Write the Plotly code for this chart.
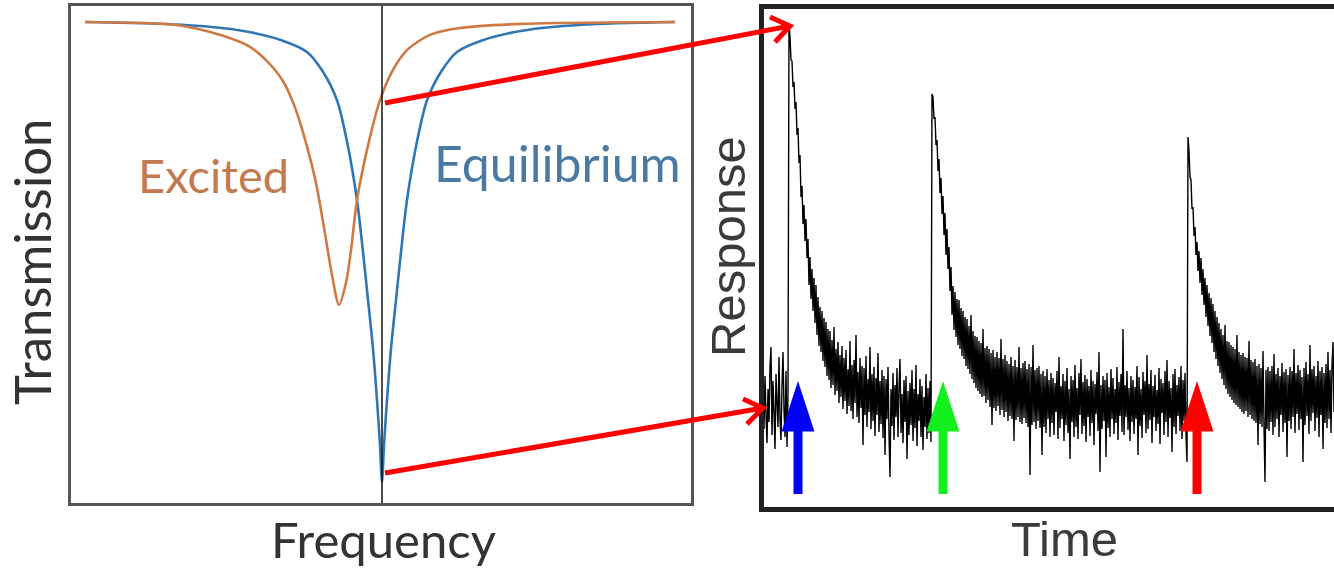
import plotly.graph_objects as go

W, H = 1334, 570

# ---------------- left panel data (frequency detuning, transmission) -------------
freq_equilibrium = [-297, -200, -140, -100, -75, -60, -45, -35, -25, -19, -14, -9, -5, -2, 0,
                    2, 5, 9, 14, 19, 25, 35, 45, 60, 75, 100, 140, 200, 293]
trans_equilibrium = [1.0, 0.994, 0.981, 0.96, 0.935, 0.895, 0.83, 0.74, 0.613, 0.50, 0.396, 0.29, 0.178, 0.08, 0.0,
                     0.08, 0.178, 0.29, 0.396, 0.50, 0.613, 0.74, 0.83, 0.895, 0.935, 0.96, 0.981, 0.994, 1.0]

freq_excited = [-297, -204, -159, -132, -115, -100, -88, -77, -66, -57, -50, -43, -36, -31, -25, -15, -2,
                11, 25, 48, 78, 140, 293]
trans_excited = [1.0, 0.993, 0.970, 0.946, 0.915, 0.875, 0.82, 0.745, 0.65, 0.54, 0.45, 0.385, 0.433, 0.504,
                 0.613, 0.722, 0.830, 0.896, 0.939, 0.972, 0.987, 0.996, 1.0]

probe_frequency = 0

# ---------------- right panel data (time samples, response a.u.) -----------------
baseline_before = [122, 78, 131, 92, 64, 118, 85, 140, 160, 72, 126, 95, 58, 133, 104, 80, 150, 88, 67, 121,
                   155, 98, 70, 136, 60, 112]
peak_1 = 484
decay_1 = [470, 447, 446, 420, 425, 398, 405, 372, 379, 344,
           352, 310, 321, 283, 302, 266, 288, 249, 268, 222,
           250, 208, 238, 196, 229, 184, 222, 172, 210, 161,
           200, 155, 196, 146, 189, 140, 185, 131, 178, 127,
           176, 119, 167, 122, 180, 112, 158, 116, 165, 104,
           152, 110, 161, 98, 149, 106, 157, 93, 138, 101,
           166, 96, 142, 88, 147, 104, 172, 90, 135, 84,
           149, 99, 141, 62, 139, 92, 151, 80, 128, 95,
           160, 78, 133, 86, 140, 71, 129, 92, 154, 75,
           126, 83, 137, 69, 131, 52, 128, 88, 140, 73,
           30, 118, 81, 134, 67, 122, 90, 139, 70, 119,
           148, 74, 113, 64, 127, 85, 131, 48, 116, 72,
           124, 82, 137, 66, 118, 79, 142, 61, 113, 86,
           128, 70, 121, 57, 110, 80, 133, 68, 119, 74,
           126, 65]
peak_2 = 413
decay_2 = [410, 388, 390, 362, 367, 336, 348, 314, 329, 293,
           311, 272, 294, 252, 278, 238, 260, 216, 240, 192,
           221, 177, 215, 170, 208, 162, 207, 158, 199, 151,
           196, 148, 190, 141, 188, 138, 181, 133, 192, 128,
           176, 124, 171, 119, 170, 116, 166, 113, 164, 110,
           178, 111, 159, 104, 161, 107, 158, 100, 154, 82,
           157, 99, 150, 96, 155, 101, 149, 92, 168, 97,
           148, 90, 152, 95, 146, 86, 143, 91, 150, 88,
           141, 66, 147, 87, 140, 90, 160, 85, 139, 83,
           144, 89, 146, 84, 138, 80, 143, 32, 140, 82,
           162, 85, 137, 78, 139, 86, 141, 79, 133, 52,
           136, 80, 131, 74, 138, 88, 127, 70, 134, 84,
           129, 72, 124, 95, 136, 68, 150, 79, 121, 88,
           133, 66, 126, 82, 139, 74, 118, 48, 131, 85,
           127, 70, 142, 80, 119, 68, 134, 92, 148, 73,
           125, 81, 132, 65, 128, 90, 121, 71, 137, 84,
           126, 62, 123, 93, 135, 76, 155, 35, 122, 78,
           131, 86, 127, 50, 134, 79, 120, 70, 138, 88,
           129, 73, 118, 84, 140, 67, 125, 91, 133, 75,
           178, 72, 122, 90, 136, 77, 119, 66, 131, 85,
           127, 73, 120, 88, 141, 52, 130, 81, 118, 69,
           135, 92, 126, 74, 152, 78, 123, 87, 137, 64,
           121, 90, 132, 76, 117, 83, 139, 63, 128, 94,
           124, 72, 136, 85, 147, 70, 126, 89, 119, 55,
           133, 80, 138, 73, 122, 91, 130, 76, 141, 68,
           127, 86, 134, 72, 45]
peak_3 = 370
decay_3 = [356, 330, 327, 298, 300, 271, 280, 252, 265, 236,
           256, 224, 249, 212, 238, 202, 229, 190, 222, 181,
           214, 171, 209, 164, 203, 155, 196, 148, 190, 141,
           184, 134, 178, 128, 172, 122, 182, 118, 166, 113,
           165, 110, 162, 107, 160, 104, 158, 102, 172, 100,
           155, 98, 152, 95, 154, 93, 150, 96, 149, 90,
           166, 92, 147, 88, 145, 86, 148, 84, 141, 62,
           143, 83, 139, 80, 156, 81, 25, 137, 78, 140,
           76, 136, 85, 141, 72, 153, 80, 133, 88, 139,
           70, 131, 92, 144, 75, 135, 84, 138, 50, 132,
           86, 140, 78, 136, 90, 158, 74, 134, 93, 142,
           77, 137, 88, 130, 45, 139, 82, 145, 91, 133,
           73, 162, 86, 138, 94, 141, 76, 131, 89, 146,
           70, 136, 92, 140, 58, 134, 84, 143, 79, 155,
           88, 137, 74, 141, 165, 95]

response = baseline_before + [peak_1] + decay_1 + [peak_2] + decay_2 + [peak_3] + decay_3
time = list(range(len(response)))

pump_times = [35, 180, 434]
pump_colors = ["#0000ff", "#14f01e", "#ff0000"]

# ---------------- figure -----------------
def px(x):
    return x / W


def py(y):
    return 1 - y / H


fig = go.Figure()

fig.add_trace(go.Scatter(x=freq_equilibrium, y=trans_equilibrium, mode="lines",
                         line=dict(color="#2f77b4", width=2.6, shape="spline", smoothing=0.8),
                         xaxis="x", yaxis="y", showlegend=False, hoverinfo="skip"))
fig.add_trace(go.Scatter(x=freq_excited, y=trans_excited, mode="lines",
                         line=dict(color="#cf7a45", width=2.6, shape="spline", smoothing=0.8),
                         xaxis="x", yaxis="y", showlegend=False, hoverinfo="skip"))

fig.add_trace(go.Scatter(x=time, y=response, mode="lines",
                         line=dict(color="#000000", width=1.4, simplify=False),
                         xaxis="x2", yaxis="y2", showlegend=False, hoverinfo="skip"))

shapes = []
# probe line in the left panel
shapes.append(dict(type="line", xref="x", yref="y domain", x0=probe_frequency, x1=probe_frequency,
                   y0=0, y1=1, line=dict(color="#111111", width=1.5), layer="above"))

# pump arrows in the right panel
for t, c in zip(pump_times, pump_colors):
    shapes.append(dict(type="line", xref="x2", yref="y2", x0=t, x1=t, y0=13, y1=95,
                       line=dict(color=c, width=9)))
    shapes.append(dict(type="path", xref="x2", yref="y2",
                       path=f"M {t-13},{78} L {t},{118} L {t+13},{78} Z",
                       fillcolor=c, line=dict(color=c, width=5)))

# red connector arrows between the panels
def arrow_path(p0, tip, a1, a2):
    return (f"M {px(p0[0])},{py(p0[1])} L {px(tip[0])},{py(tip[1])} "
            f"M {px(a1[0])},{py(a1[1])} L {px(tip[0])},{py(tip[1])} L {px(a2[0])},{py(a2[1])}")


shapes.append(dict(type="path", xref="paper", yref="paper",
                   path=arrow_path((385, 103), (790, 26), (770, 17), (775, 42)),
                   line=dict(color="#ff0000", width=5)))
shapes.append(dict(type="path", xref="paper", yref="paper",
                   path=arrow_path((385, 473), (763, 408), (743, 399), (747, 424)),
                   line=dict(color="#ff0000", width=5)))

left_font = "Lato"
right_font = "Liberation Sans, Arial"
annotations = [
    dict(text="Excited", x=px(213), y=py(175), xref="paper", yref="paper", showarrow=False,
         xanchor="center", yanchor="middle", font=dict(family=left_font, size=47, color="#c27a50")),
    dict(text="Equilibrium", x=px(557), y=py(163), xref="paper", yref="paper", showarrow=False,
         xanchor="center", yanchor="middle", font=dict(family=left_font, size=50, color="#4a7aa3")),
    dict(text="Transmission", x=px(31), y=py(262), xref="paper", yref="paper", showarrow=False,
         textangle=-90, xanchor="center", yanchor="middle",
         font=dict(family=left_font, size=51, color="#333333")),
    dict(text="Frequency", x=px(384), y=py(539), xref="paper", yref="paper", showarrow=False,
         xanchor="center", yanchor="middle", font=dict(family=left_font, size=49, color="#333333")),
    dict(text="Response", x=px(728), y=py(246), xref="paper", yref="paper", showarrow=False,
         textangle=-90, xanchor="center", yanchor="middle",
         font=dict(family=right_font, size=49, color="#3a3a3a")),
    dict(text="Time", x=px(1064), y=py(539), xref="paper", yref="paper", showarrow=False,
         xanchor="center", yanchor="middle", font=dict(family=right_font, size=49, color="#3a3a3a")),
]

axis_common = dict(showticklabels=False, ticks="", showgrid=False, zeroline=False, fixedrange=True)

fig.update_layout(
    width=W, height=H, margin=dict(l=0, r=0, t=0, b=0),
    paper_bgcolor="white", plot_bgcolor="white",
    xaxis=dict(domain=[px(71), px(691)], range=[-311, 309], showline=True, mirror=True,
               linecolor="#555555", linewidth=2.5, **axis_common),
    yaxis=dict(domain=[py(503), py(6)], range=[-0.0457, 1.0348], showline=True, mirror=True,
               linecolor="#555555", linewidth=2.5, **axis_common),
    xaxis2=dict(domain=[px(764), 1.0], range=[1, 571], showline=True, mirror=True,
                linecolor="#222222", linewidth=4.5, anchor="y2", **axis_common),
    yaxis2=dict(domain=[py(507), py(9)], range=[0, 498], showline=True, mirror=False,
                linecolor="#222222", linewidth=4.5, anchor="x2", **axis_common),
    shapes=shapes,
    annotations=annotations,
)

fig.write_html("out.html")
